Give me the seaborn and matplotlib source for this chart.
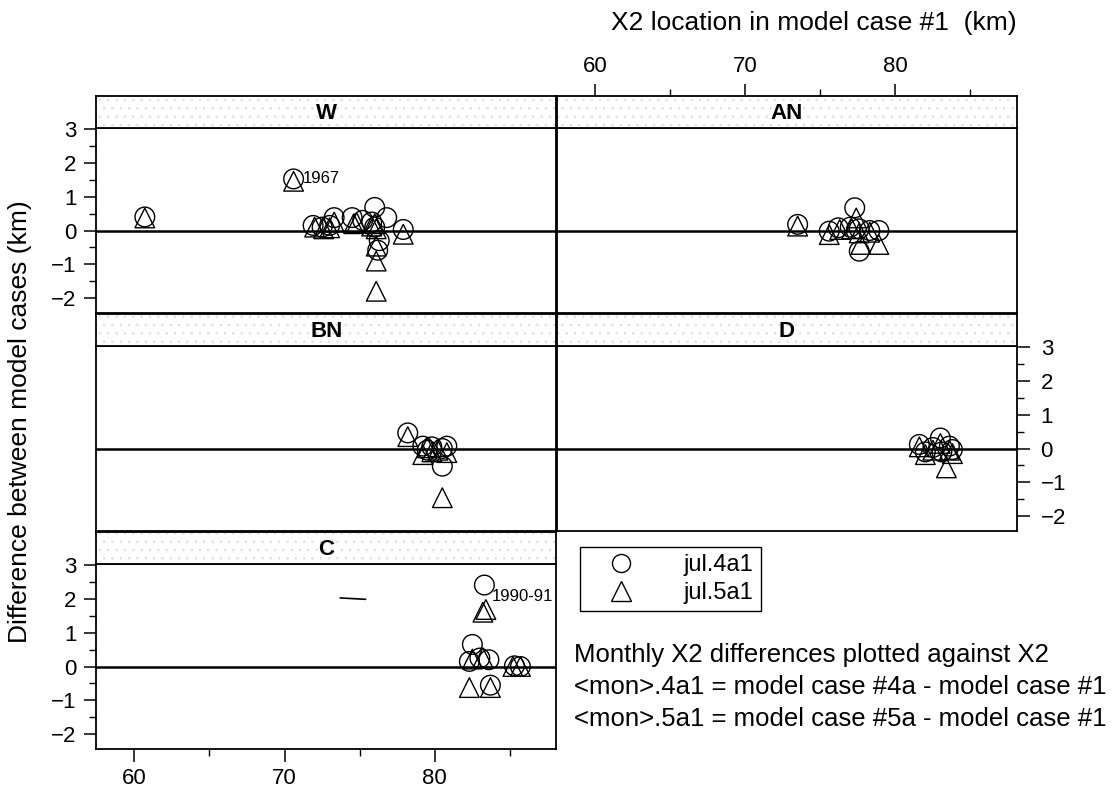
import pandas as pd
import numpy as np
import matplotlib
matplotlib.use('Agg')
import matplotlib.pyplot as plt
from matplotlib.lines import Line2D
from matplotlib.patches import Rectangle
import seaborn as sns

# --- data: X2 location (km) vs difference (km) ---
w_x4 = [60.7, 70.6, 71.9, 72.5, 73.3, 73.0, 74.5, 75.2, 75.8, 76.0, 76.8, 77.9, 76.3, 76.2, 76.0]
w_y4 = [0.40, 1.52, 0.15, 0.10, 0.38, 0.15, 0.38, 0.30, 0.25, 0.68, 0.38, 0.03, -0.30, -0.58, 0.10]
w_x5 = [60.7, 70.6, 72.0, 72.6, 73.3, 73.0, 74.6, 74.8, 75.8, 76.0, 76.1, 77.9, 76.1, 76.1, 76.1]
w_y5 = [0.37, 1.45, 0.10, 0.05, 0.25, 0.08, 0.20, 0.23, 0.13, 0.20, 0.05, -0.11, -0.46, -0.90, -1.79]

an_x4 = [73.5, 75.6, 76.2, 77.3, 77.6, 78.3, 78.9, 77.6, 77.0]
an_y4 = [0.18, -0.02, 0.08, 0.67, 0.05, 0.00, 0.00, -0.61, 0.10]
an_x5 = [73.5, 75.6, 76.3, 77.4, 77.6, 78.3, 78.9, 77.7, 77.1]
an_y5 = [0.13, -0.12, 0.03, 0.37, -0.07, -0.05, -0.41, -0.41, 0.05]

bn_x4 = [78.2, 79.2, 79.8, 80.5, 80.8, 79.5, 80.5]
bn_y4 = [0.46, 0.07, 0.05, 0.00, 0.07, -0.05, -0.52]
bn_x5 = [78.2, 79.2, 79.8, 80.2, 80.8, 79.5, 80.5]
bn_y5 = [0.35, -0.18, -0.10, -0.05, -0.12, 0.02, -1.45]

d_x4 = [81.6, 82.0, 82.5, 83.0, 83.6, 83.8, 83.1]
d_y4 = [0.12, -0.10, 0.03, 0.31, 0.07, -0.03, -0.10]
d_x5 = [81.6, 82.0, 82.5, 83.0, 83.6, 83.8, 83.4]
d_y5 = [0.05, -0.18, -0.05, 0.15, -0.05, -0.15, -0.57]

c_x4 = [83.3, 82.5, 82.3, 83.6, 83.7, 85.3, 85.7, 83.0]
c_y4 = [2.40, 0.65, 0.15, 0.20, -0.55, 0.02, 0.00, 0.25]
c_x5 = [83.4, 83.2, 82.5, 83.2, 82.3, 83.7, 85.2, 85.7]
c_y5 = [1.68, 1.60, 0.22, 0.26, -0.62, -0.62, 0.00, 0.00]

cases = ['jul.4a1', 'jul.5a1']
x_ticks = [60, 70, 80]
y_ticks = [-2, -1, 0, 1, 2, 3]

# long-form table
rows = []
for name, x4, y4, x5, y5 in [('W', w_x4, w_y4, w_x5, w_y5), ('AN', an_x4, an_y4, an_x5, an_y5),
                             ('BN', bn_x4, bn_y4, bn_x5, bn_y5), ('D', d_x4, d_y4, d_x5, d_y5),
                             ('C', c_x4, c_y4, c_x5, c_y5)]:
    for xs, ys, case in [(x4, y4, cases[0]), (x5, y5, cases[1])]:
        for a, b in zip(xs, ys):
            rows.append((name, case, a, b))
df = pd.DataFrame(rows, columns=['type', 'case', 'x2', 'diff'])

sns.set_style('white')
plt.rcParams['font.family'] = ['Liberation Sans', 'DejaVu Sans']
plt.rcParams['hatch.linewidth'] = 0.5
for k in ('text.color', 'axes.labelcolor', 'xtick.color', 'ytick.color'):
    plt.rcParams[k] = 'black'

W_PX, H_PX = 1112, 797
fig = plt.figure(figsize=(W_PX / 100, H_PX / 100), dpi=100)

def fx(px):
    return px / W_PX

def fy(py):
    return 1 - py / H_PX

col_left = [96, 556.5]
col_w = 460.5
strip_h, panel_h = 32, 185
xlim = (57.45, 88.1)
ylim = (-2.43, 3.02)

layout = [('W', 0, 0), ('AN', 0, 1), ('BN', 1, 0), ('D', 1, 1), ('C', 2, 0)]
markers = {'jul.4a1': 'o', 'jul.5a1': '^'}

for name, r, c in layout:
    top = 96 + 218 * r
    L = col_left[c]
    ax = fig.add_axes([fx(L), fy(top + strip_h + panel_h), col_w / W_PX, panel_h / H_PX])
    st = fig.add_axes([fx(L), fy(top + strip_h), col_w / W_PX, strip_h / H_PX])

    sub = df[df['type'] == name]
    ax.axhline(0, color='black', lw=1.8, zorder=1)
    sns.scatterplot(data=sub, x='x2', y='diff', style='case', markers=markers,
                    s=200, color='black', facecolor='none', edgecolor='black',
                    linewidth=1.0, legend=False, ax=ax, zorder=3)
    ax.set_xlim(xlim)
    ax.set_ylim(ylim)
    ax.set_xlabel('')
    ax.set_ylabel('')

    # strip
    st.set_xlim(xlim)
    st.set_yticks([])
    st.add_patch(Rectangle((0, 0), 1, 1, transform=st.transAxes, facecolor='none',
                           edgecolor='#dddddd', hatch='..', lw=0))
    st.text(0.5, 0.45, name, transform=st.transAxes, ha='center', va='center',
            fontsize=16, fontweight='bold')
    st.tick_params(bottom=False, labelbottom=False)

    for a in (ax, st):
        for sp in a.spines.values():
            sp.set_color('black')
            sp.set_linewidth(1.3)

    ax.tick_params(left=False, bottom=False, labelleft=False, labelbottom=False)
    tick_kw = dict(direction='out', length=9, width=1.1, labelsize=16, color='black')
    minor_kw = dict(direction='out', length=5, width=1.0, color='black')

    if name in ('W', 'C'):
        ax.set_yticks(y_ticks)
        ax.set_yticks(np.arange(-2, 3.01, 0.5), minor=True)
        ax.tick_params(axis='y', which='major', left=True, labelleft=True, pad=5, **tick_kw)
        ax.tick_params(axis='y', which='minor', left=True, **minor_kw)
    if name == 'D':
        ax.yaxis.tick_right()
        ax.set_yticks(y_ticks)
        ax.set_yticks(np.arange(-2, 3.01, 0.5), minor=True)
        ax.tick_params(axis='y', which='major', right=True, labelright=True, pad=8, **tick_kw)
        ax.tick_params(axis='y', which='minor', right=True, **minor_kw)
    if name == 'C':
        ax.set_xticks(x_ticks)
        ax.set_xticks([65, 75, 85], minor=True)
        ax.tick_params(axis='x', which='major', bottom=True, labelbottom=True, pad=5, **tick_kw)
        ax.tick_params(axis='x', which='minor', bottom=True, **minor_kw)
        ax.plot([73.7, 75.4], [2.02, 1.98], color='black', lw=1.2)
        ax.text(83.8, 2.06, '1990-91', fontsize=12, va='center', ha='left')
    if name == 'AN':
        st.xaxis.tick_top()
        st.set_xticks(x_ticks)
        st.set_xticks([65, 75, 85], minor=True)
        st.tick_params(axis='x', which='major', top=True, labeltop=True, pad=5, **tick_kw)
        st.tick_params(axis='x', which='minor', top=True, **minor_kw)
    else:
        st.set_xticks([])
    if name == 'W':
        ax.text(71.2, 1.52, '1967', fontsize=12, va='center', ha='left')

# legend
handles = [Line2D([], [], marker='o', ls='', mfc='none', mec='black', ms=13, mew=1.0),
           Line2D([], [], marker='^', ls='', mfc='none', mec='black', ms=14, mew=1.0)]
leg = fig.legend(handles, cases, loc='upper left', bbox_to_anchor=(fx(580), fy(547)),
                 frameon=True, fancybox=False, edgecolor='black', framealpha=1,
                 fontsize=17, handletextpad=1.2, borderpad=0.3, labelspacing=0.25,
                 handlelength=2.9, borderaxespad=0)
leg.get_frame().set_linewidth(1.0)

fig.text(fx(574), fy(655), 'Monthly X2 differences plotted against X2', fontsize=18.5, va='center')
fig.text(fx(574), fy(687), '<mon>.4a1 = model case #4a - model case #1', fontsize=18.5, va='center')
fig.text(fx(574), fy(719), '<mon>.5a1 = model case #5a - model case #1', fontsize=18.5, va='center')

fig.text(fx(814), fy(23), 'X2 location in model case #1  (km)', fontsize=19, ha='center', va='center')
fig.text(fx(20), fy(422), 'Difference between model cases (km)', fontsize=19, rotation=90,
         ha='center', va='center')

fig.savefig('out.png', dpi=100)
